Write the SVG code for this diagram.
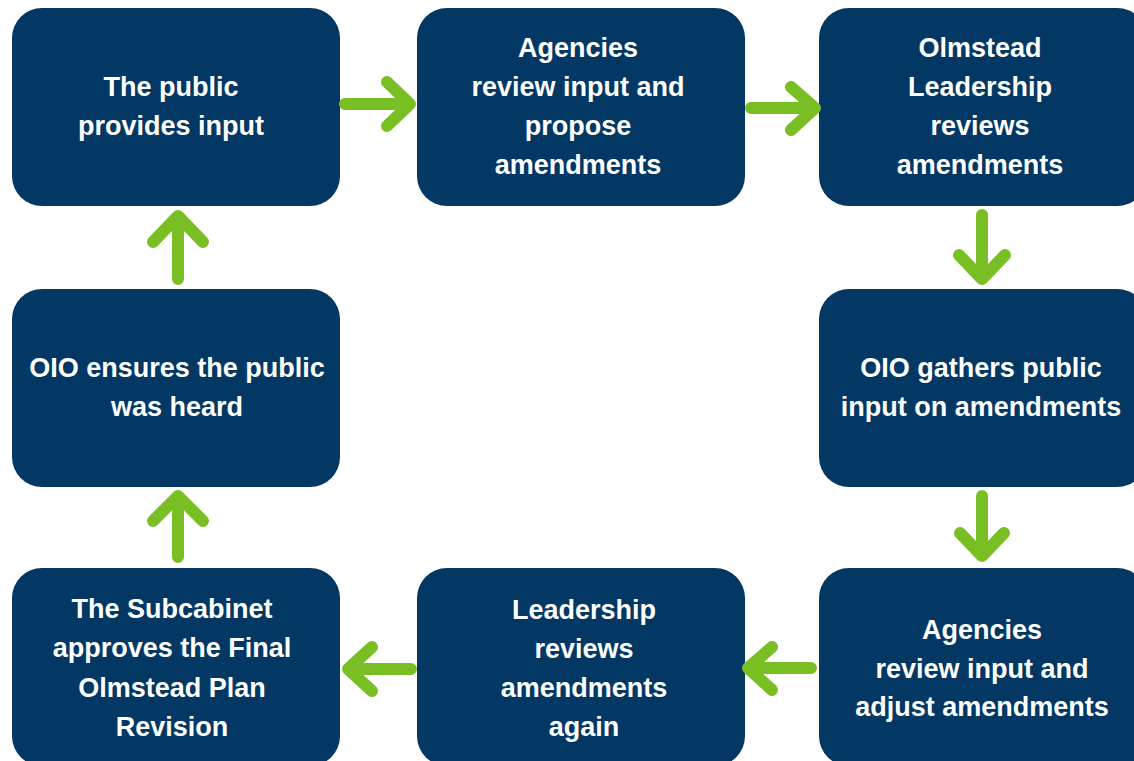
<svg xmlns="http://www.w3.org/2000/svg" width="1134" height="761" viewBox="0 0 1134 761">
<style>
.box{fill:#023863;}
.t{fill:#ffffff;font-family:"Liberation Sans",Arial,sans-serif;font-weight:bold;font-size:27px;text-anchor:middle;}
.arr{fill:none;stroke:#79bf24;stroke-width:12;stroke-linecap:round;stroke-linejoin:round;}
</style>
<rect width="1134" height="761" fill="#ffffff"/>
<g id="node-public-input">
<rect class="box" x="12" y="8" width="328" height="198" rx="30"/>
<text class="t" x="171" y="96">The public</text>
<text class="t" x="171" y="135">provides input</text>
</g>
<g id="node-agencies-propose">
<rect class="box" x="417" y="8" width="328" height="198" rx="30"/>
<text class="t" x="578" y="57">Agencies</text>
<text class="t" x="578" y="96">review input and</text>
<text class="t" x="578" y="135">propose</text>
<text class="t" x="578" y="174">amendments</text>
</g>
<g id="node-leadership-reviews">
<rect class="box" x="819" y="8" width="328" height="198" rx="30"/>
<text class="t" x="980" y="57">Olmstead</text>
<text class="t" x="980" y="96">Leadership</text>
<text class="t" x="980" y="135">reviews</text>
<text class="t" x="980" y="174">amendments</text>
</g>
<g id="node-oio-gathers">
<rect class="box" x="819" y="289" width="328" height="198" rx="30"/>
<text class="t" x="981" y="377">OIO gathers public</text>
<text class="t" x="981" y="416">input on amendments</text>
</g>
<g id="node-agencies-adjust">
<rect class="box" x="819" y="568" width="328" height="198" rx="30"/>
<text class="t" x="982" y="639">Agencies</text>
<text class="t" x="982" y="678">review input and</text>
<text class="t" x="982" y="716">adjust amendments</text>
</g>
<g id="node-leadership-again">
<rect class="box" x="417" y="568" width="328" height="198" rx="30"/>
<text class="t" x="584" y="619">Leadership</text>
<text class="t" x="584" y="658">reviews</text>
<text class="t" x="584" y="697">amendments</text>
<text class="t" x="584" y="736">again</text>
</g>
<g id="node-subcabinet">
<rect class="box" x="12" y="568" width="328" height="198" rx="30"/>
<text class="t" x="172" y="618">The Subcabinet</text>
<text class="t" x="172" y="657">approves the Final</text>
<text class="t" x="172" y="697">Olmstead Plan</text>
<text class="t" x="172" y="736">Revision</text>
</g>
<g id="node-oio-ensures">
<rect class="box" x="12" y="289" width="328" height="198" rx="30"/>
<text class="t" x="177" y="377">OIO ensures the public</text>
<text class="t" x="177" y="416">was heard</text>
</g>
<g id="connectors">
<path class="arr" d="M345 104 H409 M387 82 L410 104 L387 126"/>
<path class="arr" d="M751 108 H814 M791 87 L815 108 L791 130"/>
<path class="arr" d="M982 215 V278 M959 255 L982 279 L1005 255"/>
<path class="arr" d="M982 496 V556 M960 533 L982 556 L1004 533"/>
<path class="arr" d="M811 668 H749 M772 647 L748 668 L772 690"/>
<path class="arr" d="M411 669 H349 M372 647 L348 669 L372 691"/>
<path class="arr" d="M178 557 V497 M153 521 L178 496 L203 521"/>
<path class="arr" d="M178 279 V217 M153 242 L178 216 L203 242"/>
</g>
</svg>
